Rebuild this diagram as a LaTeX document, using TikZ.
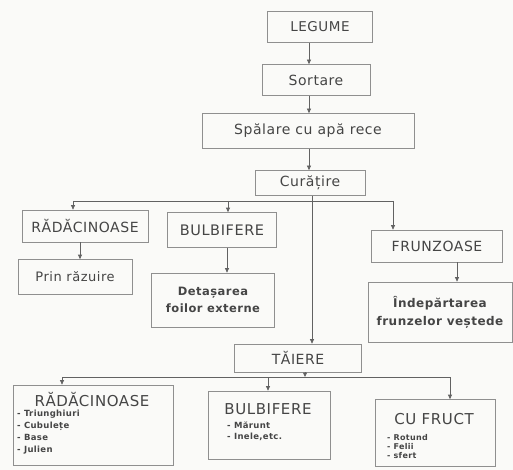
\documentclass[tikz,border=0pt]{standalone}
\usepackage{fontspec}
\setmainfont{DejaVu Sans}[LetterSpace=4]
\usetikzlibrary{arrows.meta}
\definecolor{txt}{HTML}{454545}
\definecolor{brd}{HTML}{8f8f8f}
\definecolor{lin}{HTML}{626262}
\definecolor{bg}{HTML}{fafaf8}
\newcommand{\myfs}[2]{\fontsize{#1}{#2}\selectfont}
\tikzset{
  box/.style={draw=brd, line width=0.7pt, inner sep=0pt, text=txt, align=center},
  lab/.style={text=txt, inner sep=0pt},
  arr/.style={draw=lin, line width=0.7pt, -{Triangle[length=4.5pt,width=4pt]}},
  ln/.style={draw=lin, line width=0.7pt},
}
\begin{document}
\begin{tikzpicture}[x=1pt,y=-1pt]
\fill[bg] (0,0) rectangle (513,470);
\useasboundingbox (0,0) rectangle (513,470);

% top chain
\node[box, minimum width=105pt, minimum height=31pt, font=\myfs{13.5}{16}] (leg) at (320,27) {LEGUME};
\node[box, minimum width=108pt, minimum height=31pt, font=\myfs{14}{16}] (sort) at (316,80) {Sortare};
\node[box, minimum width=212pt, minimum height=35pt, font=\myfs{14}{16}] (spal) at (308,131) {Spălare cu apă rece};
\node[box, minimum width=110pt, minimum height=25pt, font=\myfs{14}{16}] (cur) at (310,183) {Curățire};

% middle row
\node[box, minimum width=126pt, minimum height=32pt, font=\myfs{14}{16}] (rad1) at (85,226) {RĂDĂCINOASE};
\node[box, minimum width=109pt, minimum height=35pt, font=\myfs{14.5}{16}] (bul1) at (222,230) {BULBIFERE};
\node[box, minimum width=131pt, minimum height=32pt, font=\myfs{14}{16}] (fru1) at (437,246) {FRUNZOASE};

\node[box, minimum width=114pt, minimum height=35pt, font=\myfs{13}{15}] (prin) at (75,277) {Prin răzuire};
\node[box, minimum width=123pt, minimum height=54pt, font=\bfseries\myfs{11.5}{17}] (det) at (213,300) {Detașarea\\foilor externe};
\node[box, minimum width=144pt, minimum height=60pt, font=\bfseries\myfs{12}{18}] (ind) at (440,312) {Îndepărtarea\\frunzelor veștede};

\node[box, minimum width=127pt, minimum height=28pt, font=\myfs{14}{16}] (tai) at (298,358) {TĂIERE};

% bottom row
\node[box, minimum width=160pt, minimum height=80pt] (rad2) at (93,425) {};
\node[lab, font=\myfs{15}{17}] (rad2h) at (92,400) {RĂDĂCINOASE};
\node[lab, anchor=north west, align=left, font=\bfseries\myfs{8.5}{12}] (rad2l) at (17,410)
  {- Triunghiuri\\- Cubulețe\\- Base\\- Julien};

\node[box, minimum width=122pt, minimum height=68pt] (bul2) at (269,425) {};
\node[lab, font=\myfs{15}{17}] (bul2h) at (268,409) {BULBIFERE};
\node[lab, anchor=north west, align=left, font=\bfseries\myfs{8.5}{10.5}] (bul2l) at (227,422)
  {- Mărunt\\- Inele,etc.};

\node[box, minimum width=120pt, minimum height=67pt] (cuf) at (435,433) {};
\node[lab, font=\myfs{15}{17}] (cufh) at (434,419) {CU FRUCT};
\node[lab, anchor=north west, align=left, font=\bfseries\myfs{8}{9}] (cufl) at (387,434)
  {- Rotund\\- Felii\\- sfert};

% helper coordinates
\coordinate (ax) at (309,0);
\coordinate (cx) at (312,0);
\coordinate (b1l) at (73,201);
\coordinate (b1m) at (228,201);
\coordinate (b1r) at (393,201);
\coordinate (xr) at (80,0);
\coordinate (xd) at (227,0);
\coordinate (xi) at (457,0);
\coordinate (tx) at (305,0);
\coordinate (b2l) at (62,377);
\coordinate (b2m) at (268,377);
\coordinate (b2r) at (450,377);

% top chain connectors
\draw[arr] (leg.south -| ax) -- (sort.north -| ax);
\draw[arr] (sort.south -| ax) -- (spal.north -| ax);
\draw[arr] (spal.south -| ax) -- (cur.north -| ax);
\draw[arr] (cur.south -| cx) -- (tai.north -| cx);

% first bus
\draw[ln] (b1l) -- (b1r);
\draw[arr] (b1l) -- (rad1.north -| b1l);
\draw[arr] (b1m) -- (bul1.north -| b1m);
\draw[arr] (b1r) -- (fru1.north -| b1r);

\draw[arr] (rad1.south -| xr) -- (prin.north -| xr);
\draw[arr] (bul1.south -| xd) -- (det.north -| xd);
\draw[arr] (fru1.south -| xi) -- (ind.north -| xi);

% second bus
\draw[arr] (tai.south -| tx) -- (b2l -| tx);
\draw[ln] (b2l) -- (b2r);
\draw[arr] (b2l) -- (rad2.north -| b2l);
\draw[arr] (b2m) -- (bul2.north -| b2m);
\draw[arr] (b2r) -- (cuf.north -| b2r);
\end{tikzpicture}
\end{document}
